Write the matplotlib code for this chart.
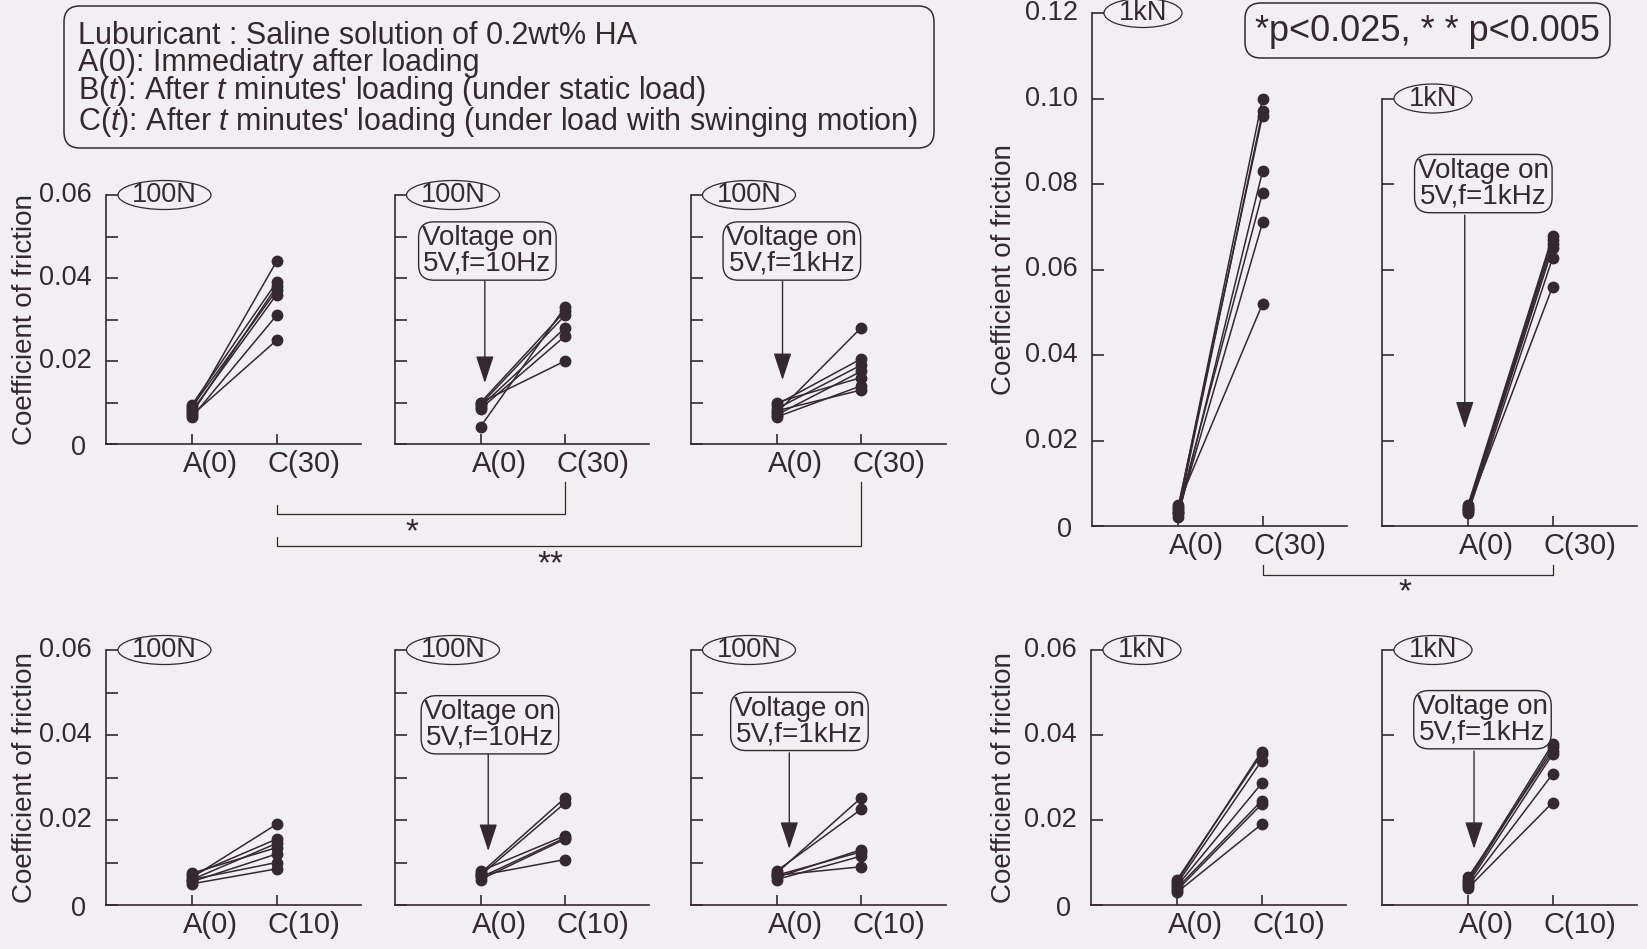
import numpy as np
import matplotlib
matplotlib.use('Agg')
import matplotlib.pyplot as plt
from matplotlib.patches import Ellipse, FancyBboxPatch

plt.rcParams['font.family'] = ['Liberation Sans', 'DejaVu Sans']
plt.rcParams['mathtext.fontset'] = 'custom'
plt.rcParams['mathtext.rm'] = 'Liberation Sans'
plt.rcParams['mathtext.it'] = 'Liberation Sans:italic'

INK = '#33292f'
BG = '#f1eff1'
FS = 19.5
W, H = 1647, 949
PT = 0.72  # points per pixel at dpi=100

# ---- data: coefficient of friction, A(0) -> C(t), one line per specimen ----
xpos = [0, 1]
lab30 = ['A(0)', 'C(30)']
lab10 = ['A(0)', 'C(10)']

# 100N, 30 min
a_100_30 = [0.0085, 0.0095, 0.0075, 0.0090, 0.0080, 0.0065, 0.0070]
c_100_30 = [0.044, 0.039, 0.038, 0.037, 0.036, 0.031, 0.025]
a_100_10hz_30 = [0.0042, 0.0100, 0.0095, 0.0090, 0.0085, 0.0100]
c_100_10hz_30 = [0.033, 0.032, 0.031, 0.028, 0.026, 0.020]
a_100_1khz_30 = [0.0075, 0.0095, 0.0085, 0.0070, 0.0100, 0.0065, 0.0080]
c_100_1khz_30 = [0.028, 0.0205, 0.019, 0.0175, 0.016, 0.014, 0.013]
# 1kN, 30 min
a_1k_30 = [0.004, 0.003, 0.0045, 0.002, 0.0035, 0.003, 0.005]
c_1k_30 = [0.100, 0.097, 0.096, 0.083, 0.078, 0.071, 0.052]
a_1k_1khz_30 = [0.005, 0.0045, 0.004, 0.0035, 0.003, 0.004]
c_1k_1khz_30 = [0.0678, 0.067, 0.066, 0.065, 0.0627, 0.056]
# 100N, 10 min
a_100_10 = [0.0065, 0.0070, 0.0060, 0.0075, 0.0055, 0.0060, 0.0050]
c_100_10 = [0.019, 0.0155, 0.0145, 0.0135, 0.012, 0.010, 0.0085]
a_100_10hz_10 = [0.0075, 0.0070, 0.0080, 0.0065, 0.0060, 0.0070]
c_100_10hz_10 = [0.0252, 0.0240, 0.0163, 0.0158, 0.0155, 0.0107]
a_100_1khz_10 = [0.0075, 0.0080, 0.0065, 0.0070, 0.0060, 0.0070]
c_100_1khz_10 = [0.0252, 0.0225, 0.0130, 0.0125, 0.0115, 0.0090]
# 1kN, 10 min
a_1k_10 = [0.0055, 0.0060, 0.0050, 0.0045, 0.0040, 0.0035, 0.0030]
c_1k_10 = [0.0361, 0.0355, 0.0339, 0.0286, 0.0245, 0.0237, 0.0190]
a_1k_1khz_10 = [0.0060, 0.0055, 0.0065, 0.0050, 0.0045, 0.0040]
c_1k_1khz_10 = [0.0379, 0.0371, 0.0362, 0.0355, 0.0308, 0.0241]

yt_100 = [0, 0.02, 0.04, 0.06]
yl_100 = ['0', '0.02', '0.04', '0.06']
yt_1k = [0, 0.02, 0.04, 0.06, 0.08, 0.10, 0.12]
yl_1k = ['0', '0.02', '0.04', '0.06', '0.08', '0.10', '0.12']

legend_lines = ["Luburicant : Saline solution of 0.2wt% HA",
                "A(0): Immediatry after loading",
                "B($t$): After $t$ minutes' loading (under static load)",
                "C($t$): After $t$ minutes' loading (under load with swinging motion)"]

fig = plt.figure(figsize=(W / 100, H / 100), dpi=100, facecolor=BG)


def panel(left, top, bottom, ymax, step, a, c, xlabels, load, ticks=None, box=None):
    ax = fig.add_axes([left / W, 1 - bottom / H, 255 / W, (bottom - top) / H])
    ax.patch.set_visible(False)
    ax.set_xlim(-1.02, 2.0)
    ax.set_ylim(0, ymax)
    for s in ['top', 'right']:
        ax.spines[s].set_visible(False)
    for s in ['left', 'bottom']:
        ax.spines[s].set_linewidth(1.2)
        ax.spines[s].set_color(INK)
    ax.set_yticks(np.round(np.arange(0, ymax + 1e-9, step), 3))
    ax.set_xticks(xpos)
    ax.tick_params(axis='y', direction='in', length=12 * PT, width=1.2, color=INK, labelleft=False)
    ax.tick_params(axis='x', direction='in', length=10 * PT, width=1.2, color=INK, labelbottom=False)
    for ai, ci in zip(a, c):
        ax.plot(xpos, [ai, ci], color=INK, lw=1.1, marker='o', ms=7.5, clip_on=False, zorder=3)
    for xv, lab in zip(xpos, xlabels):
        ax.annotate(lab, xy=(xv, 0), xycoords=('data', 'axes fraction'), xytext=(-9 * PT, -6 * PT),
                    textcoords='offset points', ha='left', va='top', fontsize=21, color=INK)
    if ticks is not None:
        for v, lab in zip(*ticks):
            if v > ymax + 1e-9:
                continue
            dx, dy = (-20, -4) if lab == '0' else (-14, 0)
            ax.annotate(lab, xy=(0, v), xycoords=('axes fraction', 'data'), xytext=(dx * PT, dy * PT),
                        textcoords='offset points', ha='right', va='center', fontsize=FS, color=INK)
    # load label ellipse attached to the top tick
    ew, eh = (93, 29) if load == '100N' else (78, 29)
    hpx = bottom - top
    cx = (12 + ew / 2) / 255
    ax.add_patch(Ellipse((cx, 1.0), ew / 255, eh / hpx, transform=ax.transAxes, clip_on=False,
                         fc=BG, ec=INK, lw=0.9, zorder=4))
    ax.text(cx, 1.0, load, transform=ax.transAxes, ha='center', va='center', fontsize=FS,
            color=INK, zorder=5)
    if box is not None:
        txt, bx, by, arx, ar0, ar1 = box
        ax.text(bx, by, txt, ha='center', va='center', fontsize=20, color=INK, linespacing=0.98,
                zorder=5, bbox=dict(boxstyle='round,pad=0.12,rounding_size=0.55', fc=BG, ec=INK, lw=1.0))
        ax.annotate('', xy=(arx, ar1), xytext=(arx, ar0),
                    arrowprops=dict(arrowstyle='-|>,head_length=0.85,head_width=0.28', mutation_scale=20,
                                    color=INK, lw=1.0, shrinkA=0, shrinkB=0))
    return ax


v10 = 'Voltage on\n5V,f=10Hz'
v1k = 'Voltage on\n5V,f=1kHz'

p1 = panel(106, 195, 444, 0.06, 0.01, a_100_30, c_100_30, lab30, '100N', (yt_100, yl_100))
p2 = panel(394.5, 195, 444, 0.06, 0.01, a_100_10hz_30, c_100_10hz_30, lab30, '100N',
           box=(v10, 0.08, 0.0465, 0.05, 0.0392, 0.0147))
p3 = panel(690.5, 195, 444, 0.06, 0.01, a_100_1khz_30, c_100_1khz_30, lab30, '100N',
           box=(v1k, 0.18, 0.0465, 0.07, 0.0392, 0.0154))
p4 = panel(1092, 13, 526, 0.12, 0.02, a_1k_30, c_1k_30, lab30, '1kN', (yt_1k, yl_1k))
p5 = panel(1382, 526 - 513 * 10 / 12, 526, 0.10, 0.02, a_1k_1khz_30, c_1k_1khz_30, lab30, '1kN',
           box=(v1k, 0.18, 0.0801, -0.04, 0.0727, 0.0228))
p6 = panel(106, 650, 905, 0.06, 0.01, a_100_10, c_100_10, lab10, '100N', (yt_100, yl_100))
p7 = panel(394.5, 650, 905, 0.06, 0.01, a_100_10hz_10, c_100_10hz_10, lab10, '100N',
           box=(v10, 0.11, 0.0424, 0.09, 0.0355, 0.0127))
p8 = panel(690.5, 650, 905, 0.06, 0.01, a_100_1khz_10, c_100_1khz_10, lab10, '100N',
           box=(v1k, 0.27, 0.0432, 0.15, 0.0358, 0.0132))
p9 = panel(1091, 650, 905, 0.06, 0.02, a_1k_10, c_1k_10, lab10, '1kN', (yt_100, yl_100))
p10 = panel(1382, 650, 905, 0.06, 0.02, a_1k_1khz_10, c_1k_1khz_10, lab10, '1kN',
            box=(v1k, 0.17, 0.0436, 0.07, 0.0362, 0.0132))

# y labels
for xc, ax in [(25, p1), (25, p6), (1004, p4), (1004, p9)]:
    pos = ax.get_position()
    fig.text(xc / W, pos.y0 + pos.height / 2, 'Coefficient of friction', rotation=90,
             ha='center', va='center', fontsize=20, color=INK)

# overlay in pixel coordinates (origin top-left) for boxes and significance brackets
ov = fig.add_axes([0, 0, 1, 1])
ov.set_xlim(0, W)
ov.set_ylim(H, 0)
ov.axis('off')
ov.patch.set_visible(False)


def cx_of(ax):
    return ax.transData.transform((1, 0))[0]


ov.add_patch(FancyBboxPatch((64, 6), 870, 142, boxstyle='round,pad=0,rounding_size=16',
                            fc=BG, ec=INK, lw=1.1))
ov.text(78, 80, '\n'.join(legend_lines), ha='left', va='center', fontsize=22, color=INK,
        linespacing=0.86)

ov.add_patch(FancyBboxPatch((1245, 3), 365, 55, boxstyle='round,pad=0,rounding_size=16',
                            fc=BG, ec=INK, lw=1.1))
ov.text(1427, 31, '*p<0.025, * * p<0.005', ha='center', va='center', fontsize=26, color=INK)

x1, x2, x3 = cx_of(p1), cx_of(p2), cx_of(p3)
ov.plot([x1, x1, x2, x2], [505, 514, 514, 482], color=INK, lw=0.9)
ov.plot([x1, x1, x3, x3], [537, 546, 546, 482], color=INK, lw=0.9)
ov.text(412, 533, '*', ha='center', va='center', fontsize=24, color=INK)
ov.text(550, 565, '**', ha='center', va='center', fontsize=24, color=INK)

x4, x5 = cx_of(p4), cx_of(p5)
ov.plot([x4, x4, x5, x5], [565, 575, 575, 565], color=INK, lw=0.9)
ov.text(1405, 593, '*', ha='center', va='center', fontsize=24, color=INK)

fig.savefig('out.png', dpi=100, facecolor=BG)
